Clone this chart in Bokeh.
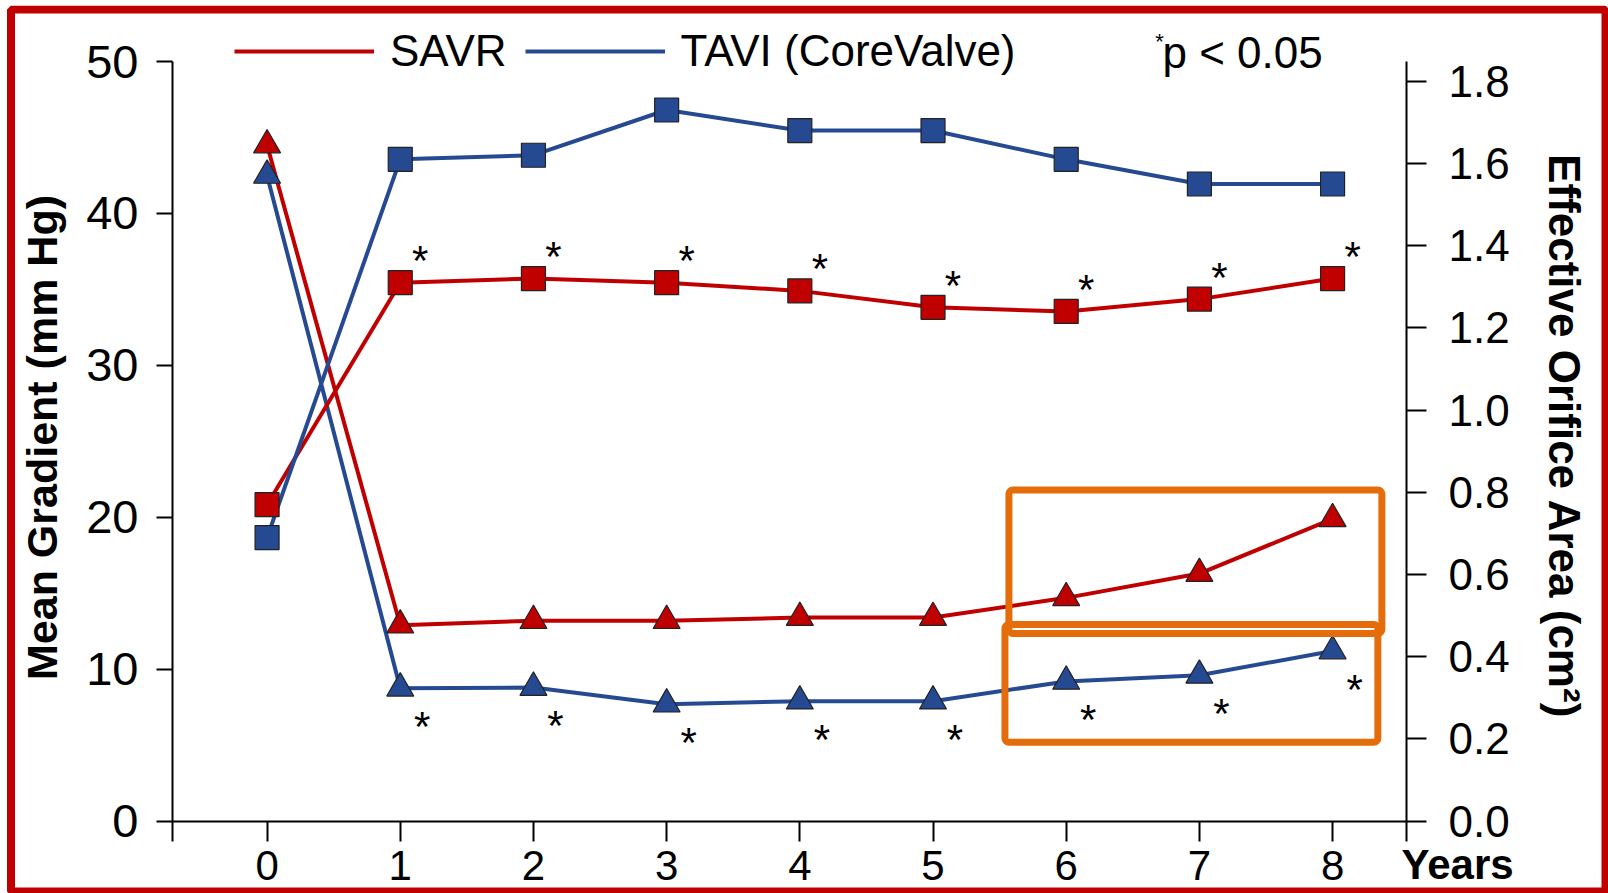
import math
from bokeh.plotting import figure
from bokeh.models import (Range1d, LinearAxis, FixedTicker, CustomJSTickFormatter,
                          PrintfTickFormatter, Legend, LegendItem, Label, BoxAnnotation)
from bokeh.embed import file_html
from bokeh.resources import INLINE
from bokeh.core.properties import value

# ---------------- data ----------------
years = [0, 1, 2, 3, 4, 5, 6, 7, 8]
savr_gradient = [44.5, 12.9, 13.2, 13.2, 13.4, 13.4, 14.7, 16.3, 19.9]
tavi_gradient = [42.5, 8.75, 8.8, 7.7, 7.9, 7.9, 9.2, 9.6, 11.2]
savr_eoa = [0.77, 1.31, 1.32, 1.31, 1.29, 1.25, 1.24, 1.27, 1.32]
tavi_eoa = [0.69, 1.61, 1.62, 1.73, 1.68, 1.68, 1.61, 1.55, 1.55]
significant_years = [1, 2, 3, 4, 5, 6, 7, 8]
gradient_ticks = [0, 10, 20, 30, 40, 50]
eoa_ticks = [0.0, 0.2, 0.4, 0.6, 0.8, 1.0, 1.2, 1.4, 1.6, 1.8]
series_labels = ["SAVR", "TAVI (CoreValve)"]
note_text = "p < 0.05"
left_title = "Mean Gradient (mm Hg)"
right_title = "Effective Orifice Area (cm²)"
x_title = "Years"

# ---------------- style / geometry ----------------
RED = "#C00000"
BLUE = "#264A92"
ORANGE = "#E46C0A"
FONT = "Liberation Sans"

W, H = 1602, 888                 # canvas size (page position 6,5)
AX_LEFT, AX_RIGHT = 166, 1400    # canvas px of the two value axes
AX_TOP, AX_BOTTOM = 56, 815.7    # canvas px of the top of the axes and of value 0

X_LO, X_HI = -0.71, 8.555        # year values at the two value axes
GRAD_HI = 50
EOA_HI = 1.848

px_year = (AX_RIGHT - AX_LEFT) / (X_HI - X_LO)
px_grad = (AX_BOTTOM - AX_TOP) / GRAD_HI
px_eoa = (AX_BOTTOM - AX_TOP) / EOA_HI


def xd(px):
    return X_LO + (px - AX_LEFT) / px_year


def yd(py):
    return (AX_BOTTOM - py) / px_grad


p = figure(width=W, height=H,
           x_range=Range1d(xd(0), xd(W)), y_range=Range1d(yd(H), yd(0)),
           output_backend="svg", toolbar_location=None, title=None,
           min_border_left=0, min_border_right=0, min_border_top=0, min_border_bottom=0)
p.extra_y_ranges = {"eoa": Range1d(-(H - AX_BOTTOM) / px_eoa, EOA_HI + AX_TOP / px_eoa)}
p.styles = {"position": "absolute", "left": "6px", "top": "5px"}

p.xgrid.visible = False
p.ygrid.visible = False
p.outline_line_color = None
p.background_fill_color = "white"
p.border_fill_color = "white"


def style_axis(ax, tick_out, label_size, standoff):
    ax.major_tick_out = tick_out
    ax.major_tick_in = 0
    ax.minor_tick_line_color = None
    ax.axis_line_width = 2
    ax.major_tick_line_width = 2
    ax.major_label_text_font = FONT
    ax.major_label_text_font_size = label_size
    ax.major_label_text_color = "black"
    ax.major_label_standoff = standoff


# ---- x axis ----
xa = p.xaxis[0]
xa.fixed_location = 0
xa.bounds = (X_LO, X_HI)
xa.ticker = FixedTicker(ticks=[X_LO] + years + [X_HI])
xa.formatter = CustomJSTickFormatter(code="return Number.isInteger(tick) ? String(tick) : '';")
style_axis(xa, 20, "42px", 10)

# ---- left axis ----
ya = p.yaxis[0]
ya.fixed_location = X_LO
ya.bounds = (0, GRAD_HI)
ya.ticker = FixedTicker(ticks=gradient_ticks)
style_axis(ya, 16, "47px", 18)

# ---- right axis ----
ra = LinearAxis(y_range_name="eoa", ticker=FixedTicker(ticks=eoa_ticks),
                formatter=PrintfTickFormatter(format="%.1f"))
ra.fixed_location = X_HI
ra.bounds = (0, EOA_HI)
style_axis(ra, 20, "44px", 22)
p.add_layout(ra, "right")

# ---- lines ----
savr_line = p.line(years, savr_gradient, line_color=RED, line_width=4)
tavi_line = p.line(years, tavi_gradient, line_color=BLUE, line_width=4)
p.line(years, savr_eoa, line_color=RED, line_width=4, y_range_name="eoa")
p.line(years, tavi_eoa, line_color=BLUE, line_width=4, y_range_name="eoa")

# ---- markers ----
p.scatter(years, savr_gradient, marker="triangle", size=27, fill_color=RED,
          line_color="#222222", line_width=1.2)
p.scatter(years, tavi_gradient, marker="triangle", size=27, fill_color=BLUE,
          line_color="#222222", line_width=1.2)
p.scatter(years, savr_eoa, marker="square", size=24, fill_color=RED,
          line_color="#222222", line_width=1.2, y_range_name="eoa")
p.scatter(years, tavi_eoa, marker="square", size=24, fill_color=BLUE,
          line_color="#222222", line_width=1.2, y_range_name="eoa")

# ---- significance asterisks ----
sig_idx = [years.index(y) for y in significant_years]
p.text(x=significant_years, y=[savr_eoa[i] for i in sig_idx], text=["*"] * len(sig_idx),
       x_offset=20, y_offset=-22, text_align="center", text_baseline="middle",
       text_font=value(FONT), text_font_size="42px", text_color="black",
       y_range_name="eoa")
p.text(x=significant_years, y=[tavi_gradient[i] for i in sig_idx], text=["*"] * len(sig_idx),
       x_offset=22, y_offset=38, text_align="center", text_baseline="middle",
       text_font=value(FONT), text_font_size="42px", text_color="black")

# ---- highlight boxes ----
p.add_layout(BoxAnnotation(left=5.57, right=8.37, bottom=12.35, top=21.8,
                           fill_alpha=0, line_color=ORANGE, line_alpha=1,
                           line_width=7, border_radius=4))
p.add_layout(BoxAnnotation(left=5.54, right=8.34, bottom=5.2, top=12.95,
                           fill_alpha=0, line_color=ORANGE, line_alpha=1,
                           line_width=7, border_radius=4))

# ---- legend ----
legend = Legend(items=[LegendItem(label=series_labels[0], renderers=[savr_line]),
                       LegendItem(label=series_labels[1], renderers=[tavi_line])],
                orientation="horizontal", location=(228, 817),
                glyph_width=140, glyph_height=40, label_standoff=16, spacing=18,
                padding=0, margin=0, border_line_color=None, background_fill_alpha=0,
                label_text_font=FONT, label_text_font_size="44px", label_text_color="black")
p.add_layout(legend)

# ---- texts ----
p.add_layout(Label(x=xd(1156), y=yd(47), text=note_text, text_font=FONT,
                   text_font_size="44px", text_color="black",
                   text_align="left", text_baseline="middle"))
p.add_layout(Label(x=xd(1153), y=yd(36), text="*", text_font=FONT, text_font_size="22px",
                   text_color="black", text_align="center", text_baseline="middle"))
p.add_layout(Label(x=xd(1395), y=yd(859), text=x_title, text_font=FONT,
                   text_font_style="bold", text_font_size="42px", text_color="black",
                   text_align="left", text_baseline="middle"))
p.add_layout(Label(x=xd(35), y=yd(432), text=left_title, angle=math.pi / 2,
                   text_font=FONT, text_font_style="bold", text_font_size="43px",
                   text_color="black", text_align="center", text_baseline="middle"))
p.add_layout(Label(x=xd(1558), y=yd(431), text=right_title, angle=-math.pi / 2,
                   text_font=FONT, text_font_style="bold", text_font_size="44px",
                   text_color="black", text_align="center", text_baseline="middle"))

# ---- outer red frame of the picture ----
p.add_layout(BoxAnnotation(left=xd(4.5), right=xd(W - 3), top=yd(4), bottom=yd(H - 2),
                           fill_alpha=0, line_color=RED, line_alpha=1, line_width=8))

open("out.html", "w").write(file_html(p, INLINE))
